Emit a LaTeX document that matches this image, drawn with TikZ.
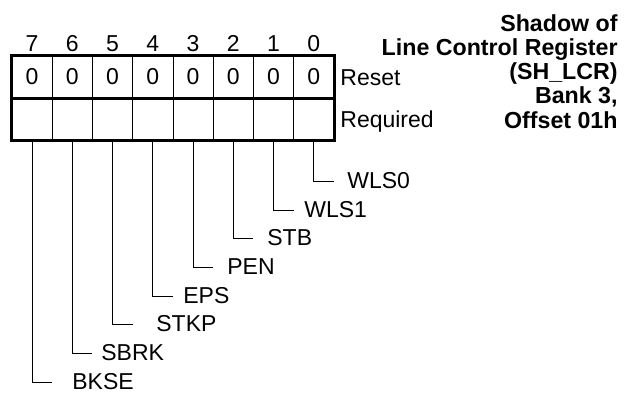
\documentclass[tikz,border=0pt]{standalone}
\usepackage{fontspec}
\setmainfont{Liberation Sans}
\usetikzlibrary{positioning}

\begin{document}
\begin{tikzpicture}[
  x=0.5pt, y=-0.5pt,
  cell/.style={draw, line width=0.5pt, minimum width=20.125pt, minimum height=21pt, inner sep=0pt, font=\fontsize{11.5}{12}\selectfont},
  bitnum/.style={anchor=base, inner sep=0pt, font=\fontsize{11.5}{12}\selectfont},
  rowname/.style={anchor=base west, inner sep=0pt, font=\fontsize{11.5}{12}\selectfont},
  fieldname/.style={anchor=west, inner sep=0pt, font=\fontsize{11.5}{12}\selectfont},
  leader/.style={line width=0.5pt},
  frame/.style={line width=1.5pt},
  regtitle/.style={anchor=north east, inner sep=0pt, align=right, font=\fontsize{11.6}{12.125}\selectfont\bfseries}
]
\useasboundingbox (0,0) rectangle (639,397);

% register cells, bit 7 on the left
\foreach \b [count=\k from 0] in {7,6,5,4,3,2,1,0} {
  \node[cell] (rst\b) at ({32.125+40.25*\k},77) {0};
  \node[cell] (req\b) at ({32.125+40.25*\k},119) {};
  \node[bitnum] (num\b) at ({32.125+40.25*\k},51) {\b};
}
\draw[frame] (rst7.north west) rectangle (req0.south east);
\draw[frame] (rst7.south west) -- (rst0.south east);

\node[rowname] (reset) at (340,85) {Reset};
\node[rowname] (required) at (340,127) {Required};

\node[regtitle] (title) at (618,14) {Shadow of\\Line Control Register\\(SH\_LCR)\\Bank 3,\\Offset 01h};

% field names with leader lines
\foreach \b/\name/\y/\tx in {0/WLS0/181/347, 1/WLS1/210/304, 2/STB/238/267, 3/PEN/267/227,
                             4/EPS/296/183, 5/STKP/324/156, 6/SBRK/353/101, 7/BKSE/382/72} {
  \pgfmathsetmacro{\gap}{(\tx-(32.125+40.25*(7-\b))-20)*0.5}
  \node[fieldname] (fld\b) at (\tx,\y) {\name};
  \draw[leader, shorten >=\gap pt] (req\b.south) |- (fld\b.west);
}
\end{tikzpicture}
\end{document}
